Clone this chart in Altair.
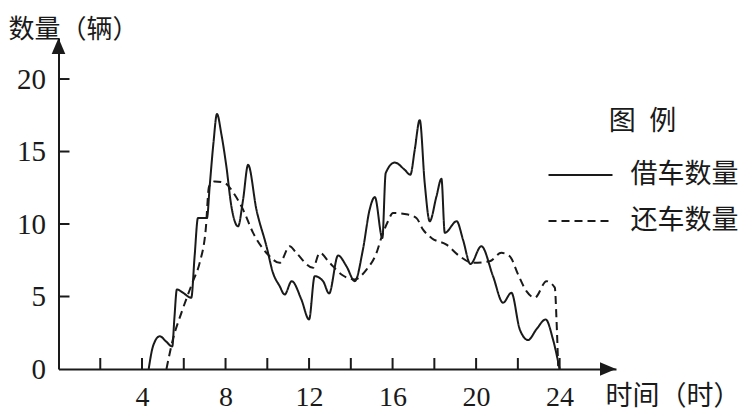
import altair as alt
import pandas as pd

# ---- data ----
borrow_t = [4.32, 4.53, 4.85, 5.15, 5.45, 5.55, 5.67, 5.96, 6.36, 6.52, 6.68, 7.11, 7.24, 7.42,
            7.59, 7.8, 8.04, 8.28, 8.6, 8.84, 9.08, 9.48, 9.96, 10.27, 10.59, 10.83, 11.17, 11.63,
            12.0, 12.27, 12.67, 12.96, 13.39, 13.79, 14.19, 14.58, 14.9, 15.15, 15.51, 15.67,
            16.1, 16.58, 16.85, 17.06, 17.3, 17.54, 17.78, 18.1, 18.34, 18.5, 19.07, 19.37, 19.73,
            20.25, 20.81, 21.29, 21.69, 22.09, 22.49, 22.89, 23.33, 23.68, 24.0]
borrow_n = [0.0, 1.59, 2.26, 1.9, 1.55, 3.5, 5.49, 5.26, 4.92, 7.8, 10.42, 10.42, 12.59, 15.58,
            17.59, 16.2, 13.97, 11.22, 9.84, 11.68, 14.08, 10.99, 8.47, 6.64, 5.72, 5.14, 6.06, 4.8,
            3.42, 6.4, 6.06, 5.21, 7.83, 7.09, 6.06, 8.24, 10.99, 11.86, 9.04, 13.51,
            14.24, 13.74, 13.4, 15.1, 17.18, 12.8, 10.19, 11.9, 13.12, 9.39, 10.19, 8.93, 7.24,
            8.47, 6.4, 4.57, 5.26, 2.74, 2.0, 2.74, 3.42, 2.05, 0.0]

return_t = [5.17, 5.48, 5.89, 6.44, 6.76, 7.05, 7.21, 7.48, 7.96, 8.44, 8.84, 9.32, 10.03, 10.59,
            11.07, 11.39, 12.19, 12.51, 12.99, 13.55, 14.19, 14.75, 15.23, 15.46, 15.78, 16.02,
            16.74, 17.14, 17.46, 17.86, 18.58, 19.21, 19.85, 20.65, 21.21, 21.61, 22.01, 22.41,
            22.81, 23.37, 23.77, 23.85, 23.93]
return_n = [0.0, 2.05, 3.89, 6.06, 7.32, 9.61, 12.59, 12.94, 12.83, 12.02, 10.99, 9.39, 7.9, 7.32,
            8.47, 8.01, 6.98, 8.01, 7.32, 6.52, 6.18, 6.86, 8.01, 9.04, 10.19, 10.76,
            10.65, 10.42, 9.61, 9.04, 8.58, 7.78, 7.32, 7.43, 8.01, 7.78, 6.52, 5.37,
            4.92, 6.06, 5.61, 3.42, 0.2]

series_names = ["借车数量", "还车数量"]
x_tick_values = [2, 4, 6, 8, 10, 12, 14, 16, 18, 20, 22, 24]
x_label_values = [4, 8, 12, 16, 20, 24]
y_label_values = [0, 5, 10, 15, 20]
y_tick_values = [5, 10, 15, 20]
x_max = 26.7
y_max = 22.83

# ---- layout ----
W, H = 557.5, 331
BLACK = "#1a1a1a"
CJK = "Noto Sans CJK SC"
SERIF = "Liberation Serif"

df = pd.concat([
    pd.DataFrame({"t": borrow_t, "n": borrow_n, "series": series_names[0]}),
    pd.DataFrame({"t": return_t, "n": return_n, "series": series_names[1]}),
])

x_scale = alt.Scale(domain=[0, x_max], nice=False, zero=False)
y_scale = alt.Scale(domain=[0, y_max], nice=False, zero=False)

x_axis = alt.Axis(
    values=x_label_values, grid=False, ticks=False, domain=True, domainColor=BLACK, domainWidth=2,
    labelFont=SERIF, labelFontSize=28, labelColor=BLACK, labelPadding=14, labelFlush=False,
    labelOverlap=False,
    title="时间（时）", titleFont=CJK, titleFontSize=27, titleFontWeight="normal", titleColor=BLACK,
    titleAngle=0, titleAlign="left", titleBaseline="middle", titleX=546.5, titleY=27,
)
y_axis = alt.Axis(
    values=y_label_values, grid=False, ticks=False, domain=True, domainColor=BLACK, domainWidth=2,
    labelFont=SERIF, labelFontSize=29, labelColor=BLACK, labelPadding=13, labelFlush=False,
    labelOverlap=False,
    title="数量（辆）", titleFont=CJK, titleFontSize=26, titleFontWeight="normal", titleColor=BLACK,
    titleAngle=0, titleAlign="left", titleBaseline="middle", titleX=-50.5, titleY=-9,
)


def X(field="t"):
    return alt.X(f"{field}:Q", scale=x_scale, axis=x_axis, title="时间（时）")


def Y(field="n"):
    return alt.Y(f"{field}:Q", scale=y_scale, axis=y_axis, title="数量（辆）")


lines = alt.Chart(df).mark_line(interpolate="monotone", strokeWidth=2, color=BLACK).encode(
    x=X(),
    y=Y(),
    strokeDash=alt.StrokeDash(
        "series:N",
        scale=alt.Scale(domain=series_names, range=[[1, 0], [8, 5]]),
        legend=alt.Legend(
            title="图\u2002例", orient="none", legendX=489, legendY=71, padding=0,
            symbolType="stroke", symbolSize=4096, symbolStrokeWidth=2, symbolStrokeColor=BLACK,
            labelFont=CJK, labelFontSize=27, labelColor=BLACK, labelOffset=17,
            titleFont=CJK, titleFontSize=27, titleFontWeight="normal", titleColor=BLACK,
            titleAnchor="middle", titlePadding=6, rowPadding=0,
        ),
    ),
    order="t:Q",
)

x_ticks = alt.Chart(pd.DataFrame({"t": x_tick_values, "n": [0] * len(x_tick_values)})).mark_rule(
    strokeWidth=2, color=BLACK
).encode(
    x=X(),
    y=alt.value(H),
    y2=alt.value(H - 11),
)
y_ticks = alt.Chart(pd.DataFrame({"n": y_tick_values})).mark_rule(strokeWidth=2, color=BLACK).encode(
    y=Y(),
    x=alt.value(0),
    x2=alt.value(11),
)

ARROW = "M 0 0 L -2 -0.85 L -2 0.85 Z"
x_arrow = alt.Chart(pd.DataFrame({"t": [x_max], "n": [0]})).mark_point(
    shape=ARROW, size=256, filled=True, color=BLACK, opacity=1, angle=0
).encode(x=X(), y=Y())
y_arrow = alt.Chart(pd.DataFrame({"t": [0], "n": [y_max]})).mark_point(
    shape=ARROW, size=256, filled=True, color=BLACK, opacity=1, angle=270
).encode(x=X(), y=Y())

chart = alt.layer(lines, x_ticks, y_ticks, x_arrow, y_arrow).properties(
    width=W, height=H,
    autosize=alt.AutoSizeParams(type="none"),
    padding={"left": 50.5, "top": 30, "right": 126, "bottom": 46},
    background="white",
).configure_view(stroke=None)

chart.save("out.html", embed_options={"renderer": "svg", "actions": False})
